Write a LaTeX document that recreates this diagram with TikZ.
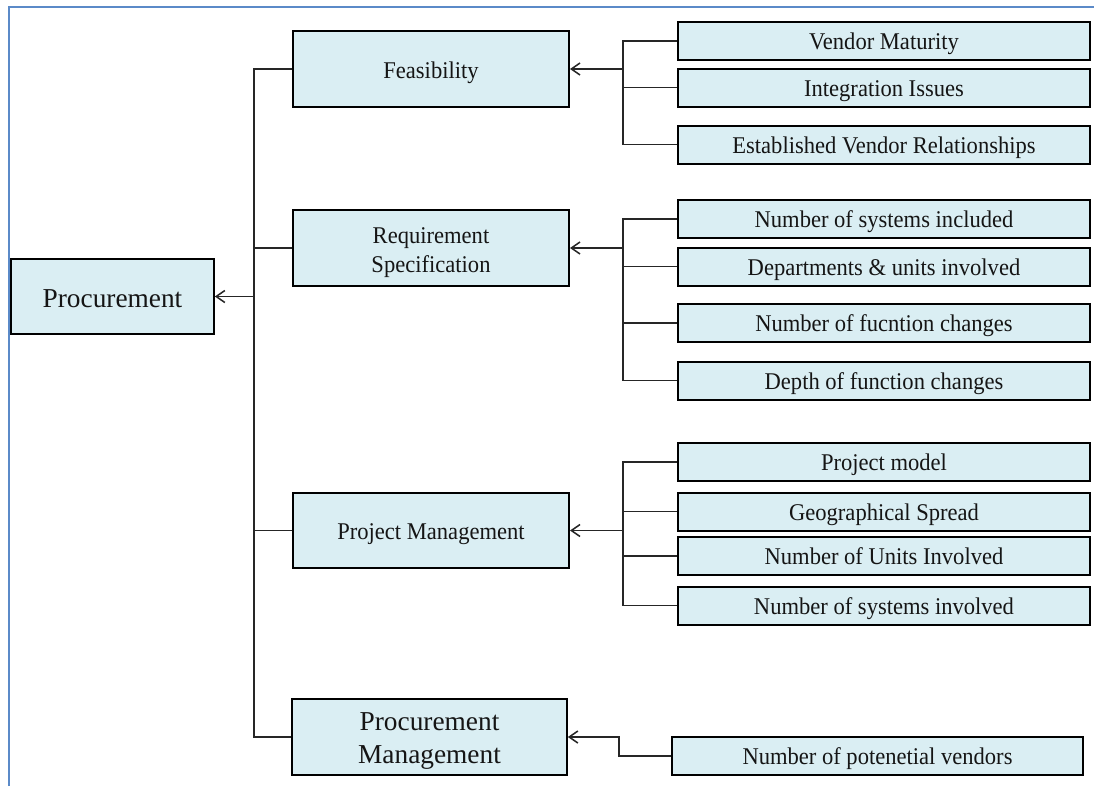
\documentclass[tikz,border=0pt]{standalone}
\usepackage{fontspec}
\setmainfont{Liberation Serif}
\newfontfamily\narrowserif[FakeStretch=0.94]{Liberation Serif}
\usetikzlibrary{arrows.meta}
\definecolor{boxfill}{HTML}{DAEEF3}
\definecolor{framecol}{HTML}{5B8AC8}
\definecolor{inkcol}{HTML}{151515}
\definecolor{linecol}{HTML}{262626}
% two centred lines, baseline on the last one
\newcommand{\twolines}[2]{\begin{tabular}[b]{@{}c@{}}#1\\#2\end{tabular}}
\begin{document}
\begin{tikzpicture}[x=0.75pt,y=-0.75pt,
  box/.style={draw=black, fill=boxfill, line width=1.5pt, inner sep=0pt,
    text=inkcol},
  leaf/.style={box, minimum width=309pt, minimum height=28.5pt,
    text height=12.8pt, text depth=0pt,
    font=\narrowserif\fontsize{18}{21}\selectfont},
  mid/.style={box, minimum width=207pt, minimum height=57pt,
    text height=13.5pt, text depth=0pt,
    font=\narrowserif\fontsize{18}{21.75}\selectfont},
  big/.style={font=\fontsize{20.5}{24.75}\selectfont},
  conn/.style={draw=linecol, line width=1.15pt},
  arr/.style={conn, -{Straight Barb[length=6.5pt,width=9pt,line width=1.15pt]}},
  frame/.style={draw=framecol, line width=1.5pt}
]
\useasboundingbox (0,0) rectangle (1094,786);

% page frame
\draw[frame] (9,786) -- (9,7) -- (1094,7);

% root
\node[box, big, minimum width=152pt, minimum height=56pt,
  text height=15.8pt, text depth=0pt] (root) at (112.5,296.5) {Procurement};

% second level
\node[mid] (feas) at (431,69) {Feasibility};
\node[mid, text height=36pt] (req) at (431,248) {\twolines{Requirement}{Specification}};
\node[mid, minimum height=56pt, text height=14.2pt] (pm) at (431,530.5) {Project Management};
\node[mid, big, minimum width=206pt, text height=39pt] (procm) at (429.5,737)
  {\twolines{Procurement}{Management}};

% leaves: feasibility
\node[leaf] (vm) at (884,41) {Vendor Maturity};
\node[leaf] (ii) at (884,87.5) {Integration Issues};
\node[leaf] (evr) at (884,144.5) {Established Vendor Relationships};

% leaves: requirement specification
\node[leaf] (nsi) at (884,219) {Number of systems included};
\node[leaf] (dui) at (884,266.5) {Departments \& units involved};
\node[leaf] (nfc) at (884,323) {Number of fucntion changes};
\node[leaf] (dfc) at (884,380.5) {Depth of function changes};

% leaves: project management
\node[leaf] (pmod) at (884,462) {Project model};
\node[leaf] (geo) at (884,511.5) {Geographical Spread};
\node[leaf] (units) at (884,556) {Number of Units Involved};
\node[leaf] (sys) at (884,605.5) {Number of systems involved};

% leaf: procurement management
\node[leaf, minimum width=308.25pt] (npv) at (877.5,756) {Number of potenetial vendors};

% bracket columns
\coordinate (trunk) at (254,0);
\coordinate (fcol) at (623,0);
\coordinate (ncol) at (619,0);

% trunk to second level
\draw[conn] (feas.west) -- (feas.west -| trunk) -- (procm.west -| trunk) -- (procm.west);
\draw[conn] (req.west) -- (req.west -| trunk);
\draw[conn] (pm.west) -- (pm.west -| trunk);
\draw[arr] (root.east -| trunk) -- (root.east);

% feasibility bracket
\draw[conn] (vm.west) -- (vm.west -| fcol) -- (evr.west -| fcol) -- (evr.west);
\draw[conn] (ii.west) -- (ii.west -| fcol);
\draw[arr] (feas.east -| fcol) -- (feas.east);

% requirement specification bracket
\draw[conn] (nsi.west) -- (nsi.west -| fcol) -- (dfc.west -| fcol) -- (dfc.west);
\draw[conn] (dui.west) -- (dui.west -| fcol);
\draw[conn] (nfc.west) -- (nfc.west -| fcol);
\draw[arr] (req.east -| fcol) -- (req.east);

% project management bracket
\draw[conn] (pmod.west) -- (pmod.west -| fcol) -- (sys.west -| fcol) -- (sys.west);
\draw[conn] (geo.west) -- (geo.west -| fcol);
\draw[conn] (units.west) -- (units.west -| fcol);
\draw[arr] (pm.east -| fcol) -- (pm.east);

% procurement management link
\draw[arr] (npv.west) -- (npv.west -| ncol) |- (procm.east);
\end{tikzpicture}
\end{document}
